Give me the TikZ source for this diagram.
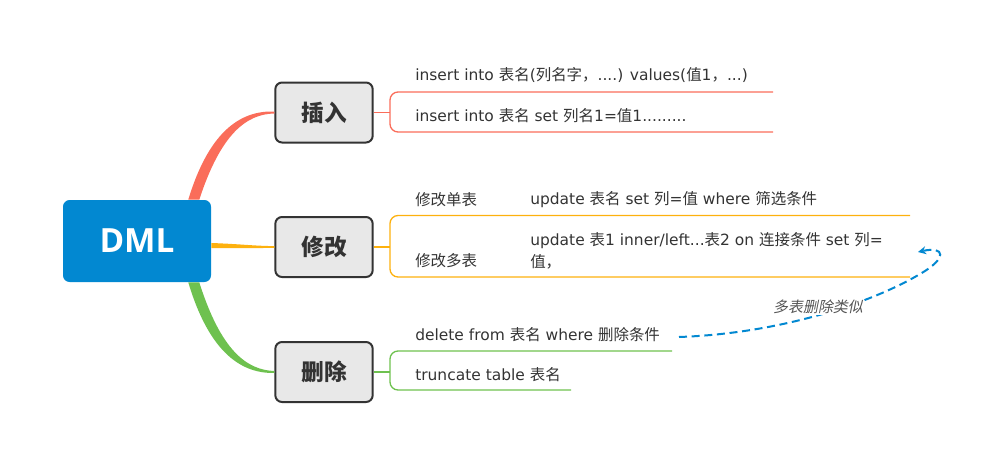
\documentclass[tikz,border=0pt]{standalone}
\usepackage{fontspec}
\setmainfont{DejaVu Sans}
\newfontfamily\opensans{Open Sans}
\newfontfamily\cjk{Noto Sans CJK SC}
\newfontfamily\slantfont[FakeSlant=0.2]{Noto Sans CJK SC}
\newcommand{\zh}[1]{{\cjk #1}}
\usetikzlibrary{arrows.meta,calc}
\definecolor{dmlblue}{HTML}{0288D1}
\definecolor{redbr}{HTML}{FA6D5A}
\definecolor{orbr}{HTML}{FDB10E}
\definecolor{grbr}{HTML}{6EC14F}
\definecolor{txt}{HTML}{333333}
\definecolor{topicfill}{HTML}{E8E8E8}
\definecolor{labgray}{HTML}{555555}
\tikzset{
  rootbox/.style={fill=dmlblue, rounded corners=5pt, minimum width=111pt, minimum height=61.5pt,
    text=white, font=\fontsize{25}{30}\selectfont\opensans\bfseries, inner sep=0pt},
  topicbox/.style={fill=topicfill, draw=txt, line width=1.5pt, rounded corners=5pt,
    minimum width=73pt, minimum height=45pt, text=txt, font=\fontsize{17}{20}\selectfont\cjk\bfseries, inner sep=0pt},
  leaf/.style={anchor=west, inner sep=0pt, text=txt, font=\fontsize{11.6}{16.5}\selectfont},
  brline/.style={line width=1pt, rounded corners=6pt},
  bluedash/.style={draw=dmlblue, line width=1.5pt, dash pattern=on 6pt off 3.5pt, -{Stealth[length=6pt,width=6pt]}},
}
\begin{document}
\begin{tikzpicture}[x=0.75pt,y=-0.75pt]
\useasboundingbox (0,0) rectangle (1003,465);
% nodes
\node[rootbox] (dml) at (137,241) {DML};
\node[topicbox] (ins) at (324,112.5) {插入};
\node[topicbox] (upd) at (324,247) {修改};
\node[topicbox] (del) at (324,372) {删除};

% tapered main branches
\fill[redbr] ($(dml.north east)+(-23,0)$) .. controls (210,128) and (243,110.5) .. ($(ins.west)+(0,-1)$)
  -- ($(ins.west)+(0,1)$) .. controls (247,114) and (221,133) .. ($(dml.north east)+(-12,0)$) -- cycle;
\fill[orbr] ($(dml.east)+(0,2)$) .. controls (240,244) and (255,246) .. ($(upd.west)+(0,-0.9)$)
  -- ($(upd.west)+(0,0.9)$) .. controls (255,248) and (240,248.5) .. ($(dml.east)+(0,7)$) -- cycle;
\fill[grbr] ($(dml.south east)+(-23,0)$) .. controls (210,355) and (243,373.5) .. ($(del.west)+(0,1)$)
  -- ($(del.west)+(0,-1)$) .. controls (247,370) and (221,351) .. ($(dml.south east)+(-12,0)$) -- cycle;

% leaf texts
\node[leaf] (t1) at (415,75) {insert into \zh{表名}(\zh{列名字，}....) values(\zh{值}1\zh{，}...)};
\node[leaf] (t2) at (415,116) {insert into \zh{表名} set \zh{列名}1=\zh{值}1.........};
\node[leaf] (u1l) at (415,200) {\zh{修改单表}};
\node[leaf] (u1) at (530,200) {update \zh{表名} set \zh{列}=\zh{值} where \zh{筛选条件}};
\node[leaf, align=left] (u2) at (530,251) {update \zh{表}1 inner/left...\zh{表}2 on \zh{连接条件} set \zh{列}=\\\zh{值，}};
\node[leaf] (u2l) at (415,261) {\zh{修改多表}};
\node[leaf] (d1t) at (415,335) {delete from \zh{表名} where \zh{删除条件}};
\node[leaf] (d2t) at (415,375) {truncate table \zh{表名}};

% red bracket
\coordinate (rj) at (390,112.5);
\coordinate (rt) at (773,92);
\coordinate (rb) at (773,132);
\draw[redbr, line width=1pt] (ins.east) -- (rj);
\draw[redbr, brline] (rt) -| (rj |- rb) -- (rb);
% orange bracket
\coordinate (oj) at (390,247);
\coordinate (ot) at (910,215.5);
\coordinate (ob) at (910,277);
\draw[orbr, line width=1pt] (upd.east) -- (oj);
\draw[orbr, brline] (ot) -| (oj |- ob) -- (ob);
% green bracket
\coordinate (gj) at (390,372);
\coordinate (gt) at (672,351);
\coordinate (gb) at (571,390);
\draw[grbr, line width=1pt] (del.east) -- (gj);
\draw[grbr, brline] (gt) -| (gj |- gb) -- (gb);

% dashed relation
\coordinate (ds) at (679,337);
\coordinate (de) at (918,252);
\draw[bluedash] (ds) .. controls (790,333) and (880,298) .. (920,274) .. controls (948,258) and (945,246) .. (de);
\node[fill=white, inner sep=1pt, text=labgray, font=\fontsize{11.2}{12}\slantfont] (lab) at (818,307) {多表删除类似};
\end{tikzpicture}
\end{document}
